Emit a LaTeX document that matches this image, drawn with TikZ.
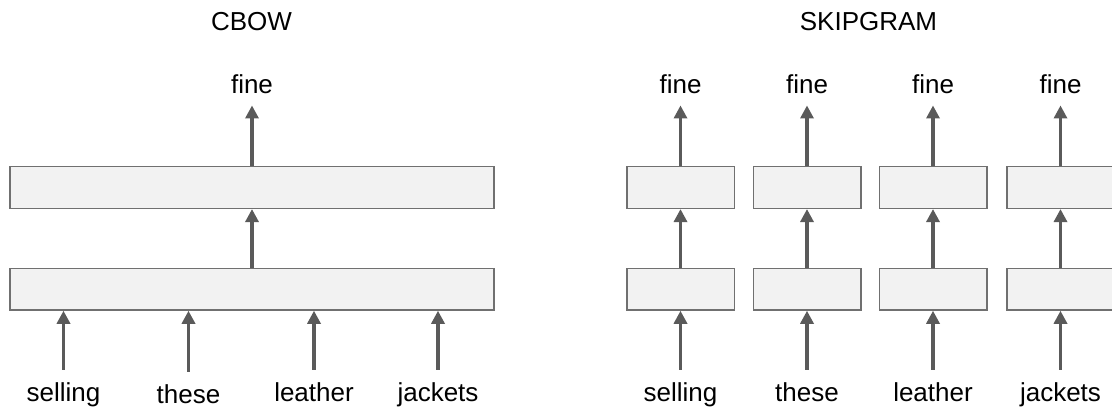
\documentclass[tikz,border=0pt]{standalone}
\usepackage{fontspec}
\setmainfont{Liberation Sans}
\usetikzlibrary{arrows.meta}
\definecolor{boxfill}{HTML}{F2F2F2}
\definecolor{boxline}{HTML}{707070}
\definecolor{arrowgray}{HTML}{5A5A5A}
\begin{document}
\begin{tikzpicture}[x=1pt,y=-1pt,
  layer/.style={draw=boxline, fill=boxfill, line width=1.5pt, inner sep=0pt,
    minimum height=41.6pt},
  wide/.style={layer, minimum width=484pt},
  narrow/.style={layer, minimum width=107.5pt},
  word/.style={font=\fontsize{26}{30}\selectfont, inner sep=0pt, anchor=base},
  title/.style={font=\fontsize{26}{30}\selectfont, inner sep=0pt, anchor=base},
  arr/.style={draw=arrowgray, line width=3.2pt,
    -{Triangle[width=13pt,length=13pt]}},
  inarr/.style={arr, shorten <=12pt},
  outarr/.style={arr, shorten >=12pt}]
\useasboundingbox (0,0) rectangle (1112,410);

% ---------- CBOW ----------
\node[title] (tc) at (251.5,30) {CBOW};
\node[wide] (ch) at (252,289.2) {};
\node[wide] (co) at (252,187.5) {};
\node[word] (cf) at (252,93) {fine};
\foreach \x/\w/\b [count=\i] in {63.5/selling/401, 188.5/these/403, 314/leather/401, 438/jackets/401}{
  \node[word] (cw\i) at (\x,\b) {\w};
  \draw[inarr] (cw\i.north) -- (cw\i.north |- ch.south);
}
\draw[arr] (ch.north) -- (co.south);
\draw[outarr] (co.north) -- (cf.south);

% ---------- SKIPGRAM ----------
\node[title] (ts) at (868.5,30) {SKIPGRAM};
\foreach \x/\w [count=\i] in {680.5/selling, 807/these, 933/leather, 1060.5/jackets}{
  \node[narrow] (sh\i) at (\x,289.2) {};
  \node[narrow] (so\i) at (\x,187.5) {};
  \node[word] (sf\i) at (\x,93) {fine};
  \node[word] (sw\i) at (\x,401) {\w};
  \draw[inarr] (sw\i.north) -- (sh\i.south);
  \draw[arr] (sh\i.north) -- (so\i.south);
  \draw[outarr] (so\i.north) -- (sf\i.south);
}
\end{tikzpicture}
\end{document}
